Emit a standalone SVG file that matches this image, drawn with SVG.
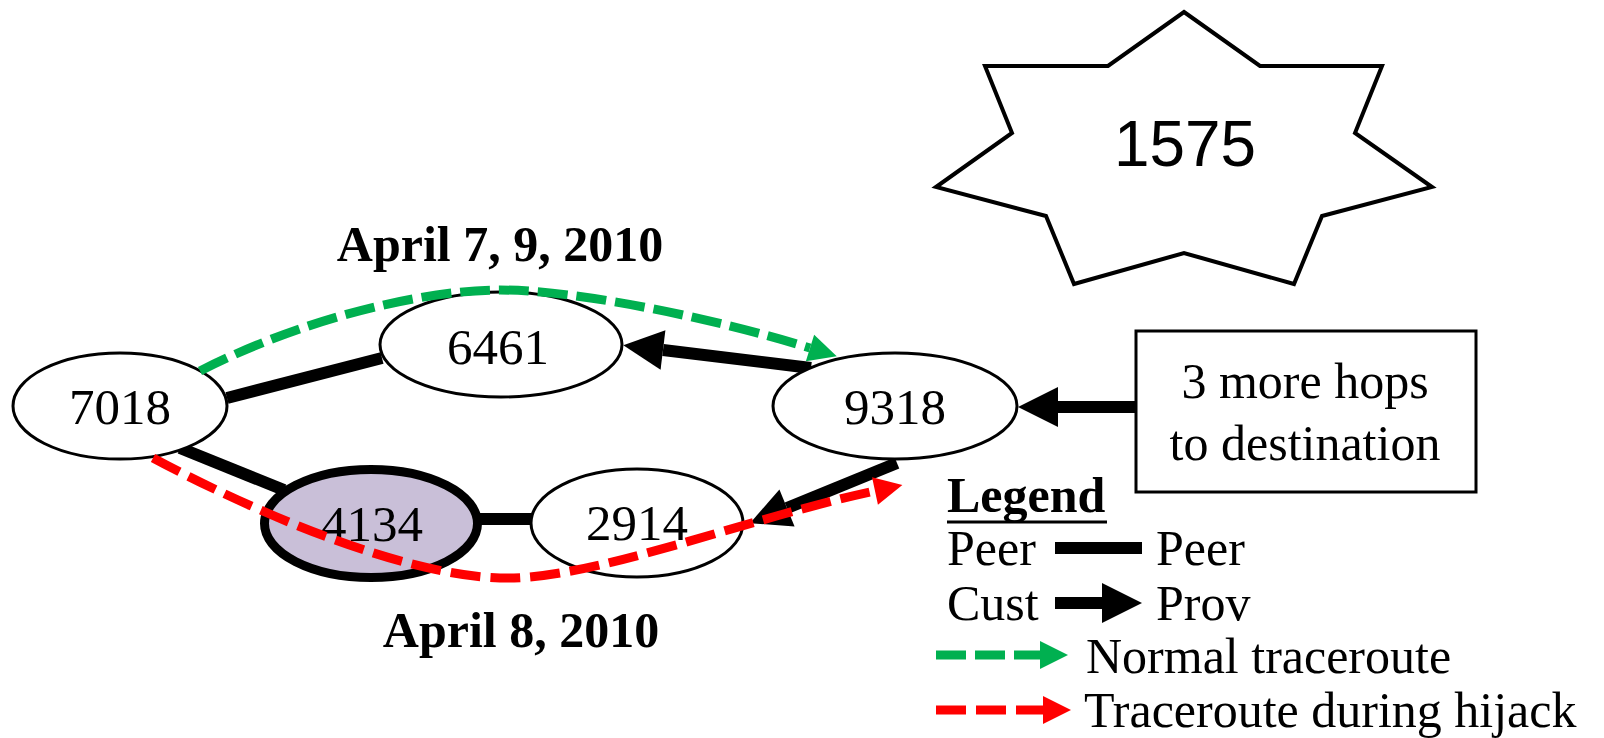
<svg xmlns="http://www.w3.org/2000/svg" width="1604" height="738" viewBox="0 0 1604 738">
  <style>
    .as { fill: #fff; stroke: #000; stroke-width: 3; }
    .lbl { font-family: "Liberation Serif", "Times New Roman", serif; font-size: 50px; fill: #000; }
    .num { text-anchor: middle; font-size: 51px; }
    .mid { text-anchor: middle; }
    .bold { font-weight: bold; }
    .peer { stroke: #000; stroke-width: 12; fill: none; }
    .cp { stroke: #000; stroke-width: 12; fill: none; marker-end: url(#headBlack); }
    .normal { stroke: #00B050; stroke-width: 9; fill: none; stroke-dasharray: 30 9; marker-end: url(#headGreen); }
    .hijack { stroke: #FF0000; stroke-width: 9; fill: none; stroke-dasharray: 30 10; marker-end: url(#headRed); }
  </style>
  <defs>
    <marker id="headBlack" markerUnits="userSpaceOnUse" markerWidth="42" markerHeight="42" refX="0" refY="20" orient="auto" overflow="visible">
      <path d="M0,0 L40,20 L0,40 Z" fill="#000"/>
    </marker>
    <marker id="headGreen" markerUnits="userSpaceOnUse" markerWidth="30" markerHeight="30" refX="0" refY="14" orient="auto" overflow="visible">
      <path d="M0,0 L28,14 L0,28 Z" fill="#00B050"/>
    </marker>
    <marker id="headRed" markerUnits="userSpaceOnUse" markerWidth="30" markerHeight="30" refX="0" refY="14" orient="auto" overflow="visible">
      <path d="M0,0 L28,14 L0,28 Z" fill="#FF0000"/>
    </marker>
  </defs>

  <rect width="1604" height="738" fill="#fff"/>

  <!-- origin AS -->
  <g id="as1575">
    <polygon points="1184,12 1260,66 1382,66 1355,133 1432,187 1322,216 1294,284 1184,253 1074,284 1046,216 936,187 1012,133 985,66 1108,66" fill="#fff" stroke="#000" stroke-width="4"/>
    <text x="1185" y="166" font-family="'Liberation Sans', Arial, sans-serif" font-size="64" text-anchor="middle" textLength="142" lengthAdjust="spacingAndGlyphs">1575</text>
  </g>

  <!-- AS relationships (peer / customer-to-provider) -->
  <g id="links">
    <line class="peer" x1="227" y1="398" x2="382" y2="358"/>
    <line class="peer" x1="180" y1="448" x2="284" y2="490"/>
    <line class="peer" x1="480" y1="519" x2="532" y2="519"/>
    <path class="cp" d="M811,368 L663,350"/>
    <path class="cp" d="M897,463 L787,508"/>
    <path class="cp" d="M1136,407 L1058,407"/>
  </g>

  <g id="as7018">
    <ellipse class="as" cx="120" cy="406" rx="107" ry="53"/>
    <text class="lbl num" x="120" y="424">7018</text>
  </g>
  <g id="as6461">
    <ellipse class="as" cx="501" cy="344.5" rx="121" ry="52.5"/>
    <text class="lbl num" x="498" y="364">6461</text>
  </g>
  <g id="as9318">
    <ellipse class="as" cx="895" cy="406" rx="122" ry="53"/>
    <text class="lbl num" x="895" y="424">9318</text>
  </g>
  <g id="as4134">
    <ellipse cx="371" cy="523.5" rx="106.5" ry="54" fill="#C9BFD8" stroke="#000" stroke-width="9"/>
    <text class="lbl num" x="372" y="541">4134</text>
  </g>
  <g id="as2914">
    <ellipse class="as" cx="637" cy="523" rx="106" ry="54"/>
    <text class="lbl num" x="637" y="540">2914</text>
  </g>

  <!-- traceroute paths, drawn over the nodes -->
  <g id="traceroutes">
    <path class="normal" d="M200,371 C300,320 420,290 500,290 S720,320 810,348"/>
    <path class="hijack" d="M153,458 C250,510 400,575 500,578 C590,581 740,520 875,491"/>
  </g>

  <g id="destination">
    <rect x="1136" y="331" width="340" height="161" fill="#fff" stroke="#000" stroke-width="3"/>
    <text class="lbl mid" x="1305" y="398">3 more hops</text>
    <text class="lbl mid" x="1305" y="460">to destination</text>
  </g>

  <!-- dates -->
  <text class="lbl bold mid" x="500" y="261">April 7, 9, 2010</text>
  <text class="lbl bold mid" x="521" y="647">April 8, 2010</text>

  <!-- legend -->
  <g id="legend">
    <text class="lbl bold" x="947" y="512">Legend</text>
    <line x1="947" y1="522" x2="1107" y2="522" stroke="#000" stroke-width="3"/>
    <text class="lbl" x="947" y="565">Peer</text>
    <line class="peer" x1="1055" y1="548" x2="1142" y2="548"/>
    <text class="lbl" x="1156" y="565">Peer</text>
    <text class="lbl" x="947" y="620">Cust</text>
    <path class="cp" d="M1055,603 L1102,603"/>
    <text class="lbl" x="1156" y="620">Prov</text>
    <path class="normal" d="M936,655 L1040,655"/>
    <text class="lbl" x="1086" y="673">Normal traceroute</text>
    <path class="hijack" d="M936,710 L1043,710"/>
    <text class="lbl" x="1084" y="727">Traceroute during hijack</text>
  </g>
</svg>
